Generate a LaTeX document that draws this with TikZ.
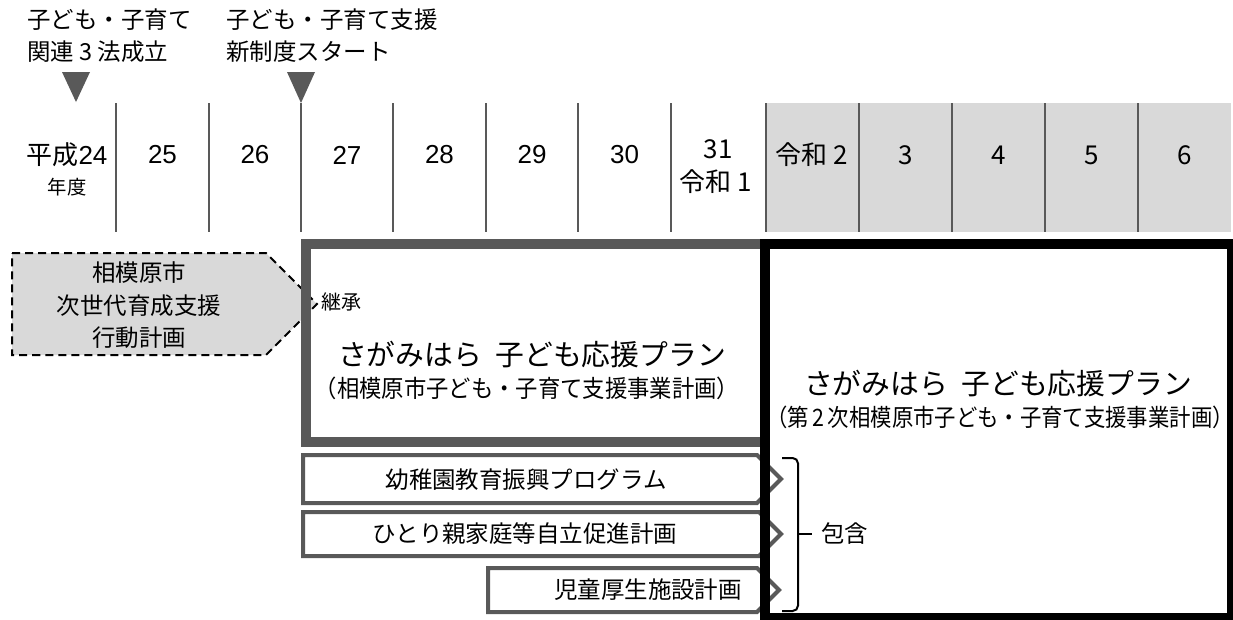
\documentclass[tikz,border=0pt]{standalone}
\usepackage{fontspec}
\setmainfont{Noto Sans CJK JP}
\newfontfamily\lat{Liberation Sans}
\definecolor{dg}{HTML}{595959}
\definecolor{lg}{HTML}{D9D9D9}
\begin{document}
\begin{tikzpicture}[x=0.75pt,y=-0.75pt,
  sep/.style={draw=dg,line width=1.5pt},
  lbl/.style={anchor=west,inner sep=0pt,font=\fontsize{17.6}{20}\selectfont},
  yr/.style={inner sep=0pt,font=\fontsize{19.5}{22}\selectfont},
  yrl/.style={inner sep=0pt,font=\fontsize{19.5}{22}\selectfont\lat},
  txt/.style={inner sep=0pt,font=\fontsize{17.6}{20}\selectfont},
  big/.style={inner sep=0pt,font=\fontsize{21.6}{24}\selectfont},
  sub/.style={draw=dg,line width=3pt,fill=white,line join=miter},
]
\useasboundingbox (0,0) rectangle (1233,619);
\clip (0,0) rectangle (1233,619);

% top labels
\node[lbl] (l1a) at (27,20) {子ども・子育て};
\node[lbl] (l1b) at (27,52) {関連 3 法成立};
\node[lbl] (l2a) at (226,20) {子ども・子育て支援};
\node[lbl] (l2b) at (226,52) {新制度スタート};
\fill[dg] (62,72) -- (90,72) -- (76,102) -- cycle;
\fill[dg] (287,72) -- (315,72) -- (301,103) -- cycle;

% header
\fill[lg] (766,103) rectangle (1231,232);
\foreach \x in {116,209,301,393,486,578,671,766,859,952,1045,1138}
  \draw[sep] (\x,103) -- (\x,232);
\node[yr] (y24) at (67,155) {平成{\lat 24}};
\node[inner sep=0pt,font=\fontsize{14.5}{16}\selectfont] (nendo) at (67,187) {年度};
\foreach \n/\x in {25/162.5,26/255,27/347,28/439.5,29/532,30/624.5}
  \node[yrl] (y\n) at (\x,155) {\n};
\node[yr] (y31) at (718,149) {31};
\node[yr] (r1) at (716,182) {令和 1};
\node[yr] (r2) at (812,155) {令和 2};
\foreach \n/\x in {3/905.5,4/998.5,5/1091.5,6/1184.5}
  \node[yr] (r\n) at (\x,155) {\n};

% box fills
\fill[white] (306,244) rectangle (765,442);
\fill[white] (765,244) rectangle (1232,618);

% dashed pentagon
\draw[line width=1.5pt, fill=lg, dash pattern=on 6pt off 3.75pt]
  (12,253) -- (266,253) -- (317,304) -- (266,355) -- (12,355) -- cycle;

% sub-plan arrows
\draw[sub] (303,455) -- (757,455) -- (781,479) -- (757,503) -- (303,503) -- cycle;
\draw[sub] (303,512) -- (759,512) -- (781,534) -- (759,556) -- (303,556) -- cycle;
\draw[sub] (488,568) -- (757,568) -- (779,590) -- (757,612) -- (488,612) -- cycle;

% box borders
\draw[dg,line width=7.5pt] (306,244) rectangle (765,442);
\draw[black,line width=7.5pt] (765,244) rectangle (1232,618);

% pentagon text
\node[txt] (p1) at (139,273) {相模原市};
\node[txt] (p2) at (139,306) {次世代育成支援};
\node[txt] (p3) at (139,338) {行動計画};

% plan texts
\node[inner sep=0pt,anchor=west,font=\fontsize{15}{17}\selectfont] (kei) at (321,302) {継承};
\node[big] (plan1) at (532,355) {さがみはら\hspace{10pt}子ども応援プラン};
\node[inner sep=0pt,font=\fontsize{18}{20}\selectfont] (plan1s) at (527,388) {\scalebox{0.93}[1]{（相模原市子ども・子育て支援事業計画）}};
\node[big] (plan2) at (998,384) {さがみはら\hspace{10pt}子ども応援プラン};
\node[inner sep=0pt,font=\fontsize{18}{20}\selectfont] (plan2s) at (1000,417) {\scalebox{0.89}[1]{（第\,2\,次相模原市子ども・子育て支援事業計画）}};

% arrow texts
\node[txt] (s1) at (526,480) {幼稚園教育振興プログラム};
\node[txt] (s2) at (525,534) {ひとり親家庭等自立促進計画};
\node[txt] (s3) at (648,590) {児童厚生施設計画};

% brace
\draw[line width=1.5pt, rounded corners=4pt] (782,458) -| (798,534) |- (782,611);
\draw[line width=1.5pt] (798,534) coordinate (bm) -- (812,534) coordinate (bt);
\node[txt,anchor=west] (hougan) at (821,534) {包含};
\end{tikzpicture}
\end{document}
